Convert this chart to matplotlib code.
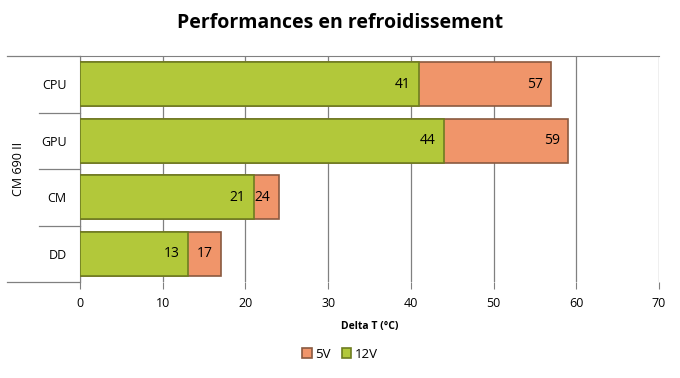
import numpy as np
import matplotlib.pyplot as plt

categories = ['CPU', 'GPU', 'CM', 'DD']
v5 = [57, 59, 24, 17]
v12 = [41, 44, 21, 13]
group_label = 'CM 690 II'
xticks = [0, 10, 20, 30, 40, 50, 60, 70]

plt.rcParams['font.family'] = ['Open Sans', 'DejaVu Sans']

fig = plt.figure(figsize=(6.8, 3.78), dpi=100)
ax = fig.add_axes([80/680, 96/378, 579/680, 226/378])

y = np.arange(len(categories))
h = 0.78
green = '#b2c83a'
orange = '#f0956a'

b5 = ax.barh(y, v5, height=h, color=orange, edgecolor='#8a5a40', linewidth=1.2, zorder=3, label='5V')
b12 = ax.barh(y, v12, height=h, color=green, edgecolor='#6e7d20', linewidth=1.2, zorder=4, label='12V')

for i in range(len(categories)):
    ax.text(v12[i] - 1.0, y[i], str(v12[i]), ha='right', va='center', fontsize=10, zorder=5)
    ax.text(v5[i] - 1.0, y[i], str(v5[i]), ha='right', va='center', fontsize=10, zorder=5)

ax.set_xlim(0, 70)
ax.set_ylim(len(categories) - 0.5, -0.5)
ax.set_xticks(xticks)
ax.set_yticks(y)
ax.set_yticklabels(categories, fontsize=9)
ax.tick_params(axis='y', length=0, pad=9.5)
ax.tick_params(axis='x', length=5, color='#808080', labelsize=9, pad=6)
ax.grid(axis='x', color='#808080', linewidth=0.9, zorder=0)
for s in ['right', 'bottom']:
    ax.spines[s].set_visible(False)
ax.spines['top'].set_color('#808080')
ax.spines['left'].set_color('#808080')

# category separators on the left side (multi-level axis)
px = 1 / 579
ytr = ax.get_yaxis_transform()
for b in np.arange(-0.5, len(categories), 1):
    start = -73 * px if b in (-0.5, len(categories) - 0.5) else -41 * px
    ax.plot([start, 0], [b, b], transform=ytr, color='#808080', linewidth=0.9, clip_on=False)
ax.text(-62 * px, 1.5, group_label, rotation=90, ha='center', va='center',
        fontsize=9, transform=ytr)

ax.set_xlabel('Delta T (°C)', fontsize=7.5, fontweight='bold', labelpad=8)
fig.suptitle('Performances en refroidissement', fontsize=14, fontweight='bold', y=0.965)

leg = fig.legend(handles=[b5, b12], loc='center', bbox_to_anchor=(0.5, 0.063), ncol=2,
                 frameon=False, fontsize=9.5, handlelength=0.7, handleheight=0.7,
                 handletextpad=0.3, columnspacing=0.8)

fig.savefig('out.png', dpi=100)
